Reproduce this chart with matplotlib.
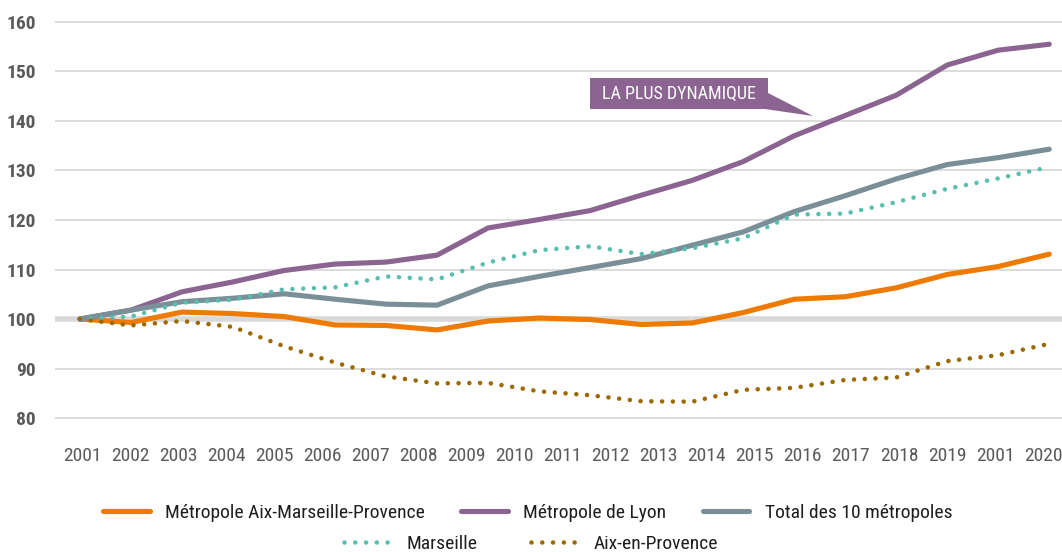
import numpy as np
import matplotlib
matplotlib.use('Agg')
import matplotlib.pyplot as plt
from matplotlib import font_manager as fm
from matplotlib.patches import Rectangle, Polygon

# index base 100 en 2001
years = list(range(2001, 2021))
tick_labels = ['2001', '2002', '2003', '2004', '2005', '2006', '2007', '2008',
               '2009', '2010', '2011', '2012', '2013', '2014', '2015', '2016',
               '2017', '2018', '2019', '2001', '2020']

aix_marseille = [100, 99.3, 101.4, 101.1, 100.5, 98.8, 98.7, 97.8, 99.6, 100.2,
                 99.9, 98.9, 99.2, 101.3, 104.0, 104.5, 106.3, 109.0, 110.6, 113.1]
lyon = [100, 101.8, 105.5, 107.5, 109.8, 111.1, 111.5, 112.9, 118.4, 120.1,
        121.9, 125.0, 128.0, 131.8, 137.0, 141.1, 145.2, 151.3, 154.3, 155.5]
total_10 = [100, 101.8, 103.5, 104.2, 105.1, 104.0, 103.0, 102.8, 106.7, 108.6,
            110.4, 112.2, 114.9, 117.6, 121.7, 124.9, 128.3, 131.2, 132.6, 134.3]
marseille = [100, 100.5, 103.3, 103.9, 106.0, 106.4, 108.6, 108.0, 111.4, 113.9,
             114.7, 113.1, 114.3, 116.3, 121.1, 121.3, 123.6, 126.3, 128.4, 130.7]
aix = [100, 98.7, 99.6, 98.4, 94.5, 91.2, 88.4, 87.0, 87.1, 85.4,
       84.6, 83.4, 83.3, 85.7, 86.1, 87.7, 88.2, 91.5, 92.7, 95.0]


# police étroite si disponible (le modèle utilise une DIN condensée)
def narrow_font():
    fonts = fm.fontManager.ttflist
    for fam in ['Roboto Condensed', 'Liberation Sans Narrow', 'Open Sans Condensed',
                'Noto Sans Condensed', 'DejaVu Sans Condensed', 'Arial Narrow']:
        if any(f.name == fam for f in fonts):
            return fam, 'normal', 1.0
    for fam in ['Noto Sans', 'Open Sans', 'Roboto', 'DejaVu Sans']:
        if any(f.name == fam and f.stretch in ('condensed', 'semi-condensed', 'extra-condensed')
               for f in fonts):
            return fam, 'condensed', 1.0
    return 'Liberation Sans', 'normal', 0.85


FAMILY, STRETCH, K = narrow_font()
plt.rcParams['font.family'] = [FAMILY, 'DejaVu Sans']
plt.rcParams['font.stretch'] = STRETCH

ORANGE = '#EF7A00'
PURPLE = '#8B6491'
GREY = '#7A8F98'
TEAL = '#58BFAF'
BROWN = '#9A6A00'

fig = plt.figure(figsize=(10.62, 5.52), dpi=100)
ax = fig.add_axes([55 / 1062, 129 / 552, 1007 / 1062, 406 / 552])

x = np.arange(len(years))
solid = dict(lw=3.7, solid_capstyle='round', solid_joinstyle='round', zorder=3)
dots = dict(lw=3.3, ls=(0, (0.001, 2.35)), dash_capstyle='round', zorder=4)

ax.plot(x, aix_marseille, color=ORANGE, label='Métropole Aix-Marseille-Provence', **solid)
ax.plot(x, lyon, color=PURPLE, label='Métropole de Lyon', **solid)
ax.plot(x, total_10, color=GREY, label='Total des 10 métropoles', **solid)
ax.plot(x, marseille, color=TEAL, label='Marseille', **dots)
ax.plot(x, aix, color=BROWN, label='Aix-en-Provence', **dots)

# grille
ax.set_ylim(79, 161)
ax.set_xlim(-0.49, 19.25)
ax.set_yticks(np.arange(80, 161, 10))
ax.yaxis.grid(True, color='#d9d9d9', lw=1.3)
ax.axhline(100, color='#d9d9d9', lw=4, zorder=1)
ax.set_axisbelow(True)
for s in ax.spines.values():
    s.set_visible(False)

ax.tick_params(axis='y', length=0, pad=14, labelsize=14 * K, labelcolor='#5a5a5a')
for lbl in ax.get_yticklabels():
    lbl.set_fontweight('bold')

ax.set_xticks(np.linspace(0.04, 18.88, len(tick_labels)))
ax.set_xticklabels(tick_labels)
ax.tick_params(axis='x', length=0, pad=17, labelsize=14 * K, labelcolor='#5a5a5a')

# encadré "LA PLUS DYNAMIQUE"
box_x0, box_x1, box_y0, box_y1 = 10.0, 13.49, 142.4, 148.7
ax.add_patch(Rectangle((box_x0, box_y0), box_x1 - box_x0, box_y1 - box_y0,
                       facecolor=PURPLE, edgecolor='none', zorder=5))
ax.add_patch(Polygon([(box_x1 - 0.05, 145.9), (box_x1 - 0.05, box_y0), (14.37, 141.0)],
                     closed=True, facecolor=PURPLE, edgecolor='none', zorder=5))
ax.text((box_x0 + box_x1) / 2, (box_y0 + box_y1) / 2, 'LA PLUS DYNAMIQUE',
        color='white', fontsize=13 * K, ha='center', va='center', zorder=6)

# légende sur deux lignes
h, l = ax.get_legend_handles_labels()
leg_kw = dict(loc='center', frameon=False, fontsize=14 * K, handlelength=2.4 / K,
              handletextpad=0.8 / K, labelcolor='#1e1e1e')
fig.legend(h[:3], l[:3], bbox_to_anchor=(0.497, 0.071), ncol=3, columnspacing=1.85 / K, **leg_kw)
fig.legend(h[3:], l[3:], bbox_to_anchor=(0.5, 0.014), ncol=2, columnspacing=2.8 / K, **leg_kw)

fig.savefig('out.png', dpi=100)
